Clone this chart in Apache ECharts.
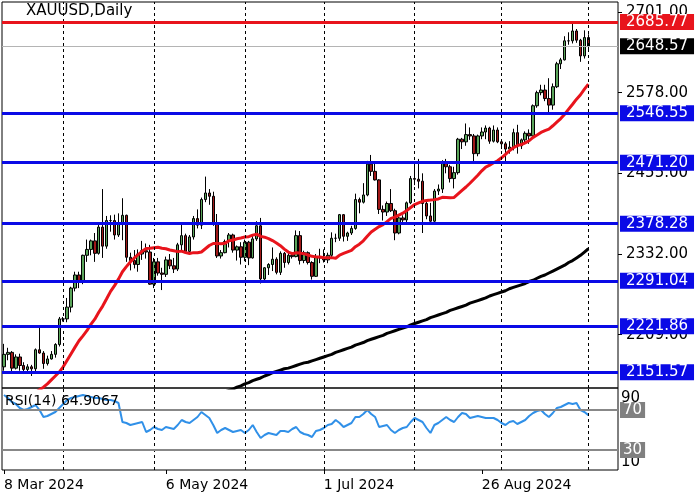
<!DOCTYPE html>
<html>
<head>
<meta charset="utf-8">
<script src="https://cdn.jsdelivr.net/npm/echarts@6/dist/echarts.min.js"></script>
<style>
  html, body { margin: 0; padding: 0; background: #fff; }
  #chart { width: 700px; height: 500px; }
</style>
</head>
<body>
<div id="chart"></div>
<script>
// daily candles, 8 Mar 2024 .. 2 Oct 2024
const opens = [2160,2179,2182,2158,2175,2162,2156,2160,2157,2186,2181,2165,2172,2179,2194,2233,2233,2251,2280,2300,2290,2330,2339,2352,2333,2373,2344,2383,2383,2361,2379,2391,2327,2322,2316,2332,2337,2335,2286,2320,2303,2301,2323,2314,2309,2346,2360,2336,2358,2386,2376,2415,2425,2420,2379,2329,2334,2351,2361,2338,2343,2327,2350,2326,2355,2375,2294,2311,2316,2324,2304,2333,2319,2330,2328,2360,2322,2334,2319,2298,2327,2326,2323,2330,2356,2356,2392,2359,2364,2371,2415,2411,2422,2469,2458,2445,2400,2396,2409,2398,2364,2387,2384,2410,2447,2446,2443,2409,2390,2382,2428,2431,2472,2465,2447,2456,2507,2503,2514,2512,2485,2512,2518,2524,2504,2521,2503,2500,2492,2495,2517,2497,2506,2516,2512,2558,2578,2582,2569,2559,2587,2622,2628,2657,2657,2672,2658,2634,2662];
const closes = [2179,2182,2158,2175,2162,2156,2160,2157,2186,2181,2165,2172,2179,2194,2233,2233,2251,2280,2300,2290,2330,2339,2352,2333,2373,2344,2383,2383,2361,2379,2391,2327,2322,2316,2332,2337,2335,2286,2320,2303,2301,2323,2314,2309,2346,2360,2336,2358,2386,2376,2415,2425,2420,2379,2329,2334,2351,2361,2338,2343,2327,2350,2326,2355,2375,2294,2311,2316,2324,2304,2333,2319,2330,2328,2360,2322,2334,2319,2298,2327,2326,2323,2330,2356,2356,2392,2359,2364,2371,2415,2411,2422,2469,2458,2445,2400,2396,2409,2398,2364,2387,2384,2410,2447,2446,2443,2409,2390,2382,2428,2431,2472,2465,2447,2456,2507,2503,2514,2512,2485,2512,2518,2524,2504,2521,2503,2500,2492,2495,2517,2497,2506,2516,2512,2558,2578,2582,2569,2559,2587,2622,2628,2657,2657,2672,2658,2634,2662,2648.57];
const lows = [2154,2170,2150,2156,2154,2149,2153,2146,2150,2180,2157,2162,2171,2174,2191,2229,2228,2243,2275,2280,2286,2320,2330,2320,2331,2326,2340,2366,2354,2358,2353,2320,2307,2310,2305,2323,2325,2285,2280,2299,2277,2297,2309,2303,2306,2336,2334,2333,2354,2371,2370,2411,2407,2375,2326,2325,2333,2342,2334,2322,2316,2321,2315,2325,2352,2287,2291,2300,2306,2301,2300,2311,2316,2325,2327,2316,2318,2316,2293,2297,2318,2319,2318,2327,2350,2352,2351,2352,2361,2369,2394,2409,2420,2451,2444,2393,2383,2390,2396,2353,2362,2379,2379,2408,2437,2432,2364,2385,2378,2380,2422,2425,2455,2441,2432,2453,2492,2497,2506,2470,2481,2507,2507,2500,2502,2501,2492,2472,2485,2490,2485,2492,2500,2500,2510,2555,2574,2565,2546,2552,2585,2614,2627,2651,2653,2654,2625,2630,2643];
const highs = [2195,2189,2184,2179,2180,2167,2164,2163,2188,2222,2184,2177,2184,2196,2236,2236,2265,2282,2305,2305,2331,2354,2354,2364,2378,2431,2390,2391,2392,2394,2417,2392,2334,2338,2339,2352,2348,2346,2326,2326,2311,2328,2332,2326,2349,2378,2363,2361,2390,2400,2418,2450,2431,2427,2393,2338,2354,2364,2363,2345,2350,2354,2352,2360,2382,2387,2312,2318,2342,2327,2336,2335,2334,2335,2368,2367,2337,2336,2321,2332,2340,2339,2334,2365,2363,2393,2393,2366,2375,2424,2418,2440,2474,2483,2470,2446,2406,2412,2431,2401,2392,2391,2412,2451,2470,2477,2455,2414,2410,2431,2438,2475,2477,2468,2465,2509,2509,2531,2525,2515,2514,2525,2528,2526,2528,2525,2504,2503,2504,2523,2529,2508,2519,2522,2560,2581,2590,2590,2600,2592,2625,2631,2664,2670,2685,2675,2660,2673,2667];

// red MA before 20 bars of history
const maHead = [null,null,null,null,null,2110,2114,2118,2121,2125,2129,2134,2140,2146,2152,2160,2170,2180,2190];
const ma200Start = 54;
const ma200 = [2118,2120,2122,2124,2126,2129,2131,2134,2136,2139,2141,2143,2146,2148,2151,2153,2155,2157,2158,2160,2162,2164,2166,2167,2169,2171,2173,
  2175,2177,2179,2182,2184,2186,2188,2190,2193,2195,2197,2200,2202,2204,2206,2208,2211,2213,2215,2217,
  2219,2221,2224,2226,2228,2230,2232,2235,2237,2239,2241,2243,2246,2248,2250,2252,2254,2257,2259,2261,
  2263,2265,2268,2270,2272,2274,2276,2279,2281,2283,2285,2287,2290,2292,2295,2298,2300,2303,2306,2309,
  2312,2315,2319,2322,2326,2330,2335,2340];

const rsi = [85,82,78,76,72,70,71,73,75,70,63,64,66,68,72,76,80,82,83,84,85,84,83,82,82,81,80,80,79,77,
  58,57,55,56,57,58,48,50,53,51,50,53,52,51,55,60,58,57,60,63,68,65,62,55,47,50,52,50,48,49,
  50,47,50,55,48,42,45,47,46,45,49,49,48,51,53,48,46,45,43,49,50,52,55,56,60,57,53,55,57,63,
  63,66,70,66,63,53,54,55,50,47,50,52,53,58,62,60,58,52,47,55,57,60,63,60,58,63,67,66,62,63,
  64,63,62,62,62,60,57,55,58,59,56,58,60,64,67,69,70,66,63,67,72,73,75,77,76,77,70,68,64.9067];

const resistance = 2685.77;
const lastPrice = 2648.57;
const supports = [2546.55, 2471.20, 2378.28, 2291.04, 2221.86, 2151.57];
const priceTicks = [2209, 2332, 2455, 2578, 2701];
const dateLabelIdx = [0, 41, 81, 121];
const monthLineIdx = [15, 38, 61, 81, 104, 126, 148];
const slots = 156;

// weekday dates
const dates = [];
const d = new Date(Date.UTC(2024, 2, 8));
const months = ['Jan','Feb','Mar','Apr','May','Jun','Jul','Aug','Sep','Oct','Nov','Dec'];
while (dates.length < slots) {
  const wd = d.getUTCDay();
  if (wd !== 0 && wd !== 6) dates.push(d.getUTCDate() + ' ' + months[d.getUTCMonth()] + ' ' + d.getUTCFullYear());
  d.setUTCDate(d.getUTCDate() + 1);
}

const candles = closes.map((c, i) => [opens[i], c, lows[i], highs[i]]);
const ma20 = closes.map((c, i) => {
  if (i < 19) return maHead[i];
  let s = 0;
  for (let k = i - 19; k <= i; k++) s += closes[k];
  return +(s / 20).toFixed(2);
});
const ma200Full = closes.map((c, i) => i >= ma200Start ? ma200[i - ma200Start] : null);

const font = 'DejaVu Sans';
const vLines = monthLineIdx.map(i => ({ xAxis: dates[i] }));
const vLineStyle = { color: '#000', type: [3, 3], width: 1 };

const priceLabel = (bg, fg) => ({
  show: true, position: 'end', distance: 2,
  formatter: p => p.value.toFixed(2),
  backgroundColor: bg, color: fg, fontFamily: font, fontSize: 15,
  padding: [1, 6, 0, 6]
});

const myChart = echarts.init(document.getElementById('chart'));
const option = {
  animation: false,
  backgroundColor: '#fff',
  grid: [
    { left: 2, right: 82, top: 2, height: 386, show: true, borderColor: '#000', borderWidth: 1 },
    { left: 2, right: 82, top: 388, height: 82, show: true, borderColor: '#000', borderWidth: 1 }
  ],
  xAxis: [
    { type: 'category', data: dates, gridIndex: 0, boundaryGap: true,
      axisLine: { show: false }, axisTick: { show: false }, axisLabel: { show: false }, splitLine: { show: false } },
    { type: 'category', data: dates, gridIndex: 1, boundaryGap: true,
      axisLine: { show: false },
      axisTick: { show: true, alignWithLabel: true, length: 4, lineStyle: { color: '#000' },
        interval: i => dateLabelIdx.includes(i) },
      axisLabel: { interval: i => dateLabelIdx.includes(i), align: 'left', margin: 8,
        color: '#000', fontFamily: font, fontSize: 14 },
      splitLine: { show: false } }
  ],
  yAxis: [
    { type: 'value', gridIndex: 0, position: 'right', min: 2127.7, max: 2716.2,
      axisLine: { show: false },
      axisTick: { show: true, customValues: priceTicks, length: 4, lineStyle: { color: '#000' } },
      axisLabel: { customValues: priceTicks, formatter: v => v.toFixed(2), margin: 8,
        color: '#000', fontFamily: font, fontSize: 15 },
      splitLine: { show: false } },
    { type: 'value', gridIndex: 1, position: 'right', min: 10, max: 92,
      axisLine: { show: false }, axisTick: { show: false }, axisLabel: { show: false },
      splitLine: { show: false } }
  ],
  graphic: [
    { type: 'text', left: 26, top: 4, style: { text: 'XAUUSD,Daily', fill: '#000', font: '15px "DejaVu Sans"' }, z: 1 },
    { type: 'text', left: 5, top: 394, style: { text: 'RSI(14) 64.9067', fill: '#000', font: '14px "DejaVu Sans"' }, z: 100 },
    { type: 'text', left: 621, top: 391, style: { text: '90', fill: '#000', font: '15px "DejaVu Sans"' }, z: 1 },
    { type: 'text', left: 621, top: 455, style: { text: '10', fill: '#000', font: '15px "DejaVu Sans"' }, z: 1 }
  ],
  series: [
    { type: 'candlestick', xAxisIndex: 0, yAxisIndex: 0, data: candles, barWidth: 3,
      itemStyle: { color: '#5aa55a', color0: '#a01818', borderColor: '#000', borderColor0: '#000', borderWidth: 1 },
      markLine: {
        symbol: 'none', silent: true, animation: false,
        data: [
          ...vLines.map(v => ({ ...v, lineStyle: vLineStyle, label: { show: false } })),
          { yAxis: lastPrice, lineStyle: { color: '#b4b4b4', width: 1, type: 'solid' }, label: priceLabel('#000', '#fff') },
          { yAxis: resistance, lineStyle: { color: '#e8141c', width: 3, type: 'solid' }, label: priceLabel('#e8141c', '#fff') },
          ...supports.map(v => ({ yAxis: v, lineStyle: { color: '#0a0ae6', width: 3, type: 'solid' }, label: priceLabel('#0a0ae6', '#fff') }))
        ]
      } },
    { type: 'line', xAxisIndex: 0, yAxisIndex: 0, data: ma20, showSymbol: false, smooth: false,
      lineStyle: { color: '#e8141c', width: 3 }, z: 3 },
    { type: 'line', xAxisIndex: 0, yAxisIndex: 0, data: ma200Full, showSymbol: false,
      lineStyle: { color: '#000', width: 3 }, z: 3 },
    { type: 'line', xAxisIndex: 1, yAxisIndex: 1, data: rsi, showSymbol: false,
      lineStyle: { color: '#3090e8', width: 2 },
      markLine: {
        symbol: 'none', silent: true, animation: false,
        data: [
          ...vLines.map(v => ({ ...v, lineStyle: vLineStyle, label: { show: false } })),
          ...[70, 30].map(v => ({ yAxis: v, lineStyle: { color: '#888', width: 2, type: 'solid' },
            label: { show: true, position: 'end', distance: 2, formatter: String(v), backgroundColor: '#808080',
              color: '#fff', fontFamily: font, fontSize: 15, padding: [1, 3, 0, 3] } }))
        ]
      } }
  ]
};
myChart.setOption(option);
</script>
</body>
</html>
